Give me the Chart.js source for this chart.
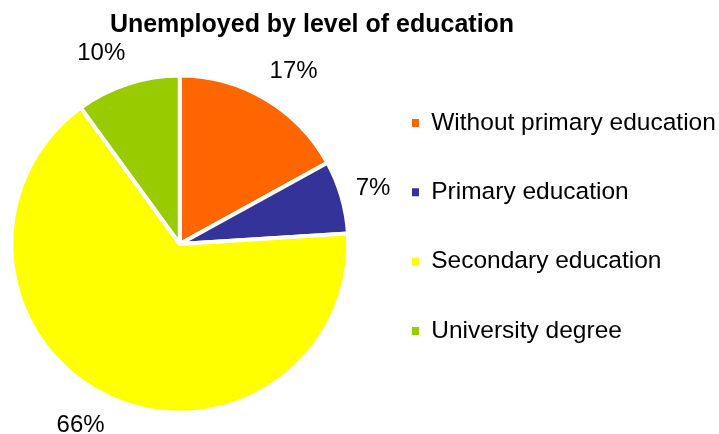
<!DOCTYPE html>
<html>
<head>
<meta charset="utf-8">
<script src="https://cdn.jsdelivr.net/npm/chart.js@4.4.0/dist/chart.umd.min.js"></script>
<style>
  html, body { margin: 0; padding: 0; background: #fff; }
  #wrap { width: 719px; height: 434px; position: relative; }
</style>
</head>
<body>
<div id="wrap"><canvas id="myChart"></canvas></div>
<script>
var categorias = ['Without primary education', 'Primary education', 'Secondary education', 'University degree'];
var valores = [17, 7, 66, 10];
var cores = ['#FF6600', '#333399', '#FFFF00', '#99CC00'];
var tituloTexto = 'Unemployed by level of education';

var fonte = '"Liberation Sans", Arial, sans-serif';

// legenda um pouco mais para cima e para a direita, como no original
var pluginLegenda = {
    id: 'ajusteLegenda',
    afterLayout: function (chart) {
        var lg = chart.legend;
        var pad = lg.options.labels.padding;
        var dx = 412 - (lg.left + pad);
        var dy = 66 - lg.top;
        lg.left += dx; lg.right += dx;
        lg.top += dy; lg.bottom += dy;
    }
};

// desenha o titulo e as porcentagens fora da pizza
var pluginRotulos = {
    id: 'rotulos',
    afterDraw: function (chart) {
        var ctx = chart.ctx;
        var meta = chart.getDatasetMeta(0);
        ctx.save();
        ctx.fillStyle = '#000';
        ctx.font = 'bold 25px ' + fonte;
        ctx.textAlign = 'center';
        ctx.textBaseline = 'alphabetic';
        ctx.fillText(tituloTexto, 312, 32);

        ctx.font = '24px ' + fonte;
        ctx.textBaseline = 'middle';
        var total = valores.reduce(function (a, b) { return a + b; }, 0);
        meta.data.forEach(function (arc, i) {
            var p = arc.getProps(['x', 'y', 'startAngle', 'endAngle', 'outerRadius'], true);
            var texto = Math.round(valores[i] / total * 100) + '%';
            var meio = (p.startAngle + p.endAngle) / 2;
            var ux = Math.cos(meio), uy = Math.sin(meio);
            var r = p.outerRadius + 32;
            // empurra o rotulo para fora na horizontal, como faz o Excel
            var meiaLargura = ctx.measureText(texto).width / 2;
            var x = p.x + ux * r + Math.sign(ux) * meiaLargura * (1 - Math.abs(ux));
            var y = p.y + uy * r;
            ctx.fillText(texto, x, y);
        });
        ctx.restore();
    }
};

var chart = new Chart(document.getElementById('myChart').getContext('2d'),
{
    type: 'pie',
    data: {
        labels: categorias,
        datasets: [{
            data: valores,
            backgroundColor: cores,
            borderColor: '#FFFFFF',
            borderWidth: 4
        }]
    },
    options: {
        responsive: true,
        maintainAspectRatio: false,
        animation: false,
        layout: {
            padding: { left: 0, top: 73.5, bottom: 19.5, right: 0.8 }
        },
        plugins: {
            title: { display: false },
            tooltip: { enabled: false },
            legend: {
                position: 'right',
                align: 'start',
                labels: {
                    boxWidth: 7,
                    boxHeight: 8,
                    padding: 44.8,
                    color: '#000',
                    font: { family: fonte, size: 24.5 },
                    generateLabels: function (chart) {
                        var itens = Chart.overrides.pie.plugins.legend.labels.generateLabels(chart);
                        itens.forEach(function (item) { item.lineWidth = 0; });
                        return itens;
                    }
                }
            }
        }
    },
    plugins: [pluginLegenda, pluginRotulos]
});
</script>
</body>
</html>
